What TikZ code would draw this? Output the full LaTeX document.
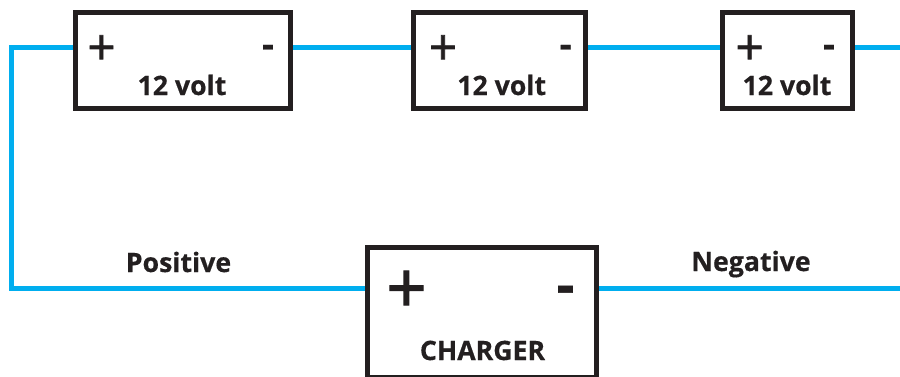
\documentclass[tikz,border=0pt]{standalone}
\usepackage{fontspec}
\setmainfont{Open Sans}[BoldFeatures={RawFeature={embolden=0.5}}]
\newfontfamily\signfont{Open Sans}[RawFeature={embolden=1.5}]
\usepackage{tikz}
\usetikzlibrary{positioning}
\definecolor{wireblue}{HTML}{00AEEF}
\definecolor{inkblack}{HTML}{231F20}

\begin{document}
\begin{tikzpicture}[x=.75pt, y=-.75pt]
        \tikzstyle{battery}=[rectangle, line width=3.75pt, draw=inkblack, fill=white, minimum height=72pt]
        \tikzstyle{charger}=[rectangle, line width=3.75pt, draw=inkblack, fill=white, minimum width=171.75pt, minimum height=97.5pt]
        \tikzstyle{wire}=[line width=3.75pt, draw=wireblue]
        \tikzstyle{plussign}=[text=inkblack, font=\fontsize{37}{37}\signfont, inner sep=0pt]
        \tikzstyle{minussign}=[text=inkblack, font=\fontsize{28}{28}\selectfont\bfseries, inner sep=0pt]
        \tikzstyle{bigplus}=[text=inkblack, font=\fontsize{53}{53}\signfont, inner sep=0pt]
        \tikzstyle{bigminus}=[text=inkblack, font=\fontsize{42}{42}\selectfont\bfseries, inner sep=0pt]
        \tikzstyle{caption}=[text=inkblack, font=\fontsize{20}{20}\selectfont\bfseries, inner sep=0pt, anchor=base]
        \useasboundingbox [fill=white] (0,0) rectangle (900,376);
        % batteries
        \node [battery, minimum width=161.25pt] (bat1) at (183,60.5) {};
        \node [battery, minimum width=129pt] (bat2) at (499.5,60.5) {};
        \node [battery, minimum width=97.5pt] (bat3) at (787.5,60.5) {};
        \node [charger] (chg) at (482,312.5) {};
        % terminals
        \node [plussign] (plus1) at (101.5,50) {+};
        \node [minussign] (minus1) at (268,51) {-};
        \node [plussign] (plus2) at (443,50) {+};
        \node [minussign] (minus2) at (565.7,51) {-};
        \node [plussign] (plus3) at (749.7,50) {+};
        \node [minussign] (minus3) at (829,51) {-};
        \node [bigplus] (plus4) at (406.5,292) {+};
        \node [bigminus] (minus4) at (565.5,295) {-};
        % texts
        \node [caption] (volt1) at (182,95) {12 volt};
        \node [caption] (volt2) at (501.7,95) {12 volt};
        \node [caption] (volt3) at (787,95) {12 volt};
        \node [caption] (chgname) at (482.5,360) {CHARGER};
        \node [caption] (pos) at (178.5,272) {Positive};
        \node [caption] (neg) at (751,271) {Negative};
        % wires
        \coordinate (corner1) at (11.5,47.5);
        \coordinate (corner2) at (11.5,288);
        \coordinate (end1) at (900,47.5);
        \coordinate (end2) at (900,288);
        \draw [wire] (corner1 -| bat1.west) -- (corner1) -- (corner2) -- (corner2 -| chg.west);
        \draw [wire] (corner1 -| bat1.east) -- (corner1 -| bat2.west);
        \draw [wire] (corner1 -| bat2.east) -- (corner1 -| bat3.west);
        \draw [wire] (corner1 -| bat3.east) -- (end1);
        \draw [wire] (corner2 -| chg.east) -- (end2);
\end{tikzpicture}
\end{document}
